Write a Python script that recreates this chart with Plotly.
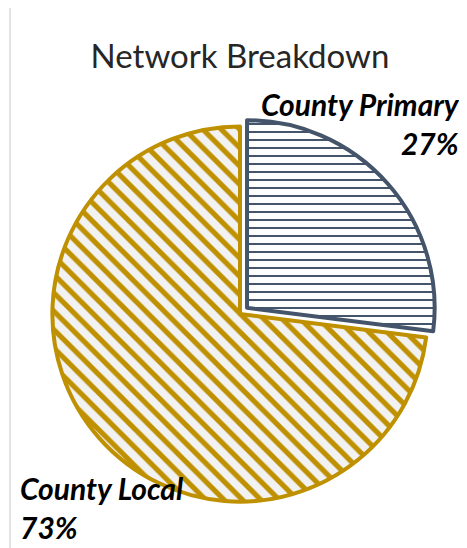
import plotly.graph_objects as go

# data
labels = ["County Primary", "County Local"]
shares = [27, 73]
line_colors = ["#44546A", "#BF9000"]
pattern_shapes = ["-", "\\"]
pattern_bg = ["#FFFFFF", "#F2F2F2"]

W, H = 459, 540  # page body keeps an 8px margin, so the figure fits the 467x548 window


def px(x):
    return (x - 8) / W


def py(y):
    return 1 - (y - 8) / H


fig = go.Figure(
    go.Pie(
        labels=labels,
        values=shares,
        sort=False,
        direction="clockwise",
        rotation=0,
        pull=[0.05, 0],
        textinfo="none",
        hoverinfo="label+percent",
        showlegend=False,
        marker=dict(
            colors=pattern_bg,
            line=dict(color=line_colors, width=4),
            pattern=dict(
                shape=pattern_shapes,
                fgcolor=line_colors,
                bgcolor=pattern_bg,
                fgopacity=1,
                size=[8, 13],
                solidity=[0.25, 0.4],
                fillmode="overlay",
            ),
        ),
        domain=dict(x=[px(43), px(437)], y=[py(511), py(117)]),
    )
)

# slice labels, placed like the original data labels
label_pos = [(px(462), py(124), "right"), (px(18), py(507), "left")]
for name, share, (x, y, align) in zip(labels, shares, label_pos):
    fig.add_annotation(
        x=x, y=y, xref="paper", yref="paper",
        xanchor=align, yanchor="middle", align=align,
        text=f"<b><i>{name}<br>{share}%</i></b>",
        showarrow=False,
        font=dict(family="Lato, sans-serif", size=30, color="#000000"),
    )

# chart frame (top and left edges are inside the window)
fig.add_shape(type="line", xref="paper", yref="paper",
              x0=px(10), x1=1.02, y0=py(7), y1=py(7),
              line=dict(color="#D9D9D9", width=1.5))
fig.add_shape(type="line", xref="paper", yref="paper",
              x0=px(10), x1=px(10), y0=-0.02, y1=py(7),
              line=dict(color="#D9D9D9", width=1.5))

fig.update_layout(
    width=W,
    height=H,
    margin=dict(l=0, r=0, t=0, b=0),
    paper_bgcolor="white",
    title=dict(
        text="Network Breakdown",
        x=px(240), xanchor="center",
        y=py(56), yanchor="middle",
        font=dict(family="Lato, sans-serif", size=33, color="#262626"),
    ),
)

fig.write_html("out.html")
